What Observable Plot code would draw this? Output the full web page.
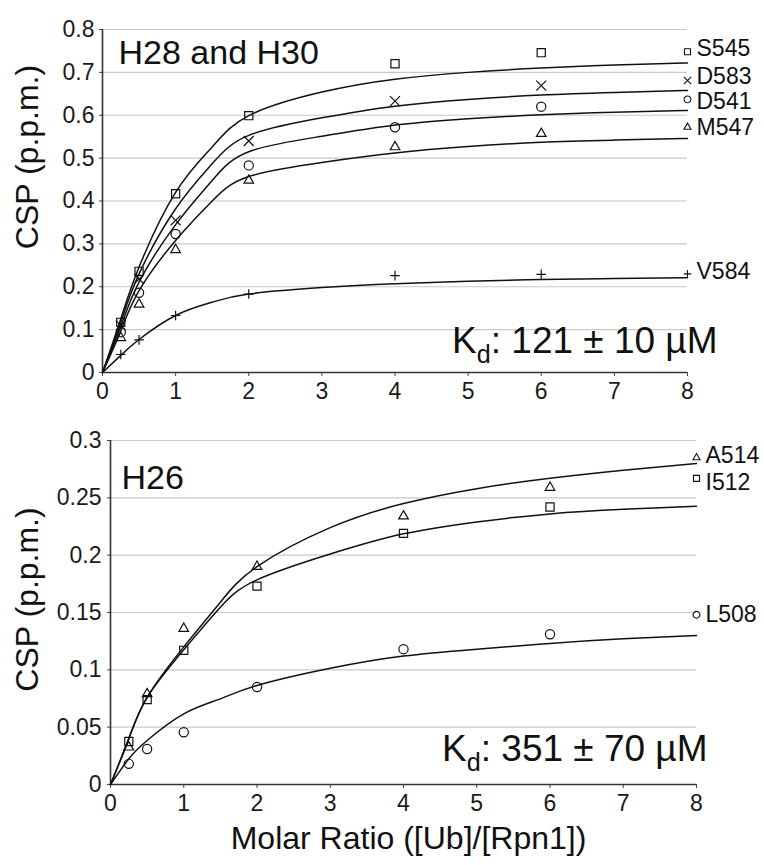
<!DOCTYPE html>
<html><head><meta charset="utf-8">
<script src="https://cdn.jsdelivr.net/npm/d3@7"></script>
<script src="https://cdn.jsdelivr.net/npm/@observablehq/plot@0.6"></script>
<style>
body{margin:0;background:#fff;}
#chart{width:764px;height:865px;position:relative;background:#fff;font-family:"Liberation Sans",Arial,Helvetica,sans-serif;}
#chart svg{display:block;}
</style></head><body><div id="chart"></div>
<script>
// ---------- shared ----------
const ratios = [0.25, 0.5, 1, 2, 4, 6, 8];
const fitRatios = [0, 0.25, 0.5, 1, 1.5, 2, 3, 4, 5, 6, 7, 8];
const xTicks = [0, 1, 2, 3, 4, 5, 6, 7, 8];
const xLabel = "Molar Ratio ([Ub]/[Rpn1])";
const yLabel = "CSP (p.p.m.)";

// ---------- top panel (H28 and H30) ----------
const topTitle = "H28 and H30";
const topKd = "Kd: 121 ± 10 µM";
const topNames = ["S545", "D583", "D541", "M547", "V584"];
const topSymbols = ["square", "times", "circle", "triangle2", "plus"];
const S545 = [0.117, 0.236, 0.417, 0.599, 0.720, 0.746, 0.748];
const D583 = [0.110, 0.218, 0.355, 0.540, 0.633, 0.669, 0.681];
const D541 = [0.094, 0.186, 0.323, 0.483, 0.572, 0.620, 0.637];
const M547 = [0.081, 0.159, 0.286, 0.448, 0.526, 0.557, 0.572];
const V584 = [0.042, 0.076, 0.133, 0.183, 0.226, 0.229, 0.230];
const S545fit = [0, 0.125, 0.246, 0.420, 0.526, 0.599, 0.654, 0.684, 0.700, 0.710, 0.717, 0.722];
const D583fit = [0, 0.117, 0.230, 0.382, 0.487, 0.553, 0.594, 0.621, 0.637, 0.647, 0.653, 0.658];
const D541fit = [0, 0.107, 0.211, 0.345, 0.448, 0.515, 0.551, 0.577, 0.592, 0.601, 0.607, 0.611];
const M547fit = [0, 0.097, 0.191, 0.308, 0.400, 0.457, 0.490, 0.512, 0.527, 0.537, 0.542, 0.546];
const V584fit = [0, 0.040, 0.077, 0.133, 0.164, 0.183, 0.198, 0.207, 0.213, 0.217, 0.219, 0.221];
const topYTicks = [0, 0.1, 0.2, 0.3, 0.4, 0.5, 0.6, 0.7, 0.8];

// ---------- bottom panel (H26) ----------
const botTitle = "H26";
const botKd = "Kd: 351 ± 70 µM";
const botNames = ["A514", "I512", "L508"];
const botSymbols = ["triangle2", "square", "circle"];
const A514 = [0.0325, 0.079, 0.136, 0.190, 0.234, 0.259, 0.285];
const I512 = [0.0375, 0.074, 0.117, 0.173, 0.219, 0.242, 0.267];
const L508 = [0.018, 0.031, 0.0456, 0.085, 0.118, 0.131, 0.148];
const A514fit = [0, 0.040, 0.076, 0.120, 0.159, 0.190, 0.224, 0.245, 0.258, 0.267, 0.274, 0.280];
const I512fit = [0, 0.040, 0.076, 0.1175, 0.1546, 0.1785, 0.201, 0.2186, 0.229, 0.236, 0.240, 0.2427];
const L508fit = [0, 0.0224, 0.0384, 0.0616, 0.0747, 0.0863, 0.1013, 0.112, 0.118, 0.123, 0.127, 0.130];
const botYTicks = [0, 0.05, 0.1, 0.15, 0.2, 0.25, 0.3];

// layout-only nudges for the end labels (pixels)
const labelNudge = {S545: -3, D583: -4, D541: 2, M547: 0, V584: -2, A514: -2, I512: 4, L508: 0};

function buildPoints(names, series) {
  return names.flatMap((n, i) => ratios.map((r, j) => ({name: n, x: r, y: series[i][j]})));
}
function buildFits(names, fits) {
  return names.flatMap((n, i) => fitRatios.map((r, j) => ({name: n, x: r, y: fits[i][j]})));
}

const FONT = '"Liberation Sans", Arial, Helvetica, sans-serif';
const INK = "#111";

function panel(o) {
  const pts = buildPoints(o.names, o.series);
  const fits = buildFits(o.names, o.fits);
  const symOf = Object.fromEntries(o.names.map((n, i) => [n, o.symbols[i]]));
  const isPlus = d => symOf[d.name] === "plus";
  const mid = pts.filter(d => d.x < 8);
  const last = pts.filter(d => d.x === 8);
  const dotStyle = {x: "x", y: "y", symbol: "name", stroke: INK, fill: "none"};
  const marks = [
    Plot.gridY(o.yTicks, {stroke: "#c8c8c8", strokeOpacity: 1, strokeWidth: 1.1}),
    Plot.axisY(o.yTicks, {tickSize: 3, tickPadding: o.yPad, fontSize: 23, tickFormat: d => String(d), label: null, stroke: "#444", fill: "#1a1a1a"}),
    Plot.axisX(xTicks, {tickSize: 4, tickPadding: 6, fontSize: 23, tickFormat: d => String(d), label: null, stroke: "#444", fill: "#1a1a1a"}),
    Plot.ruleY([0], {stroke: "#333", strokeWidth: 1.6}),
    Plot.ruleX([0], {stroke: "#333", strokeWidth: 1.6}),
    Plot.line(fits, {x: "x", y: "y", z: "name", curve: "natural", stroke: INK, strokeWidth: 1.5}),
    Plot.dot(mid.filter(d => !isPlus(d)), {...dotStyle, r: 4.6, strokeWidth: 1.2}),
    Plot.dot(mid.filter(isPlus), {...dotStyle, r: 3.2, strokeWidth: 1.2}),
    Plot.dot(last.filter(d => !isPlus(d)), {...dotStyle, r: 3.4, strokeWidth: 1.1}),
    Plot.dot(last.filter(isPlus), {...dotStyle, r: 2.6, strokeWidth: 1.1}),
    ...last.map(d => Plot.text([d], {x: "x", y: "y", text: "name", dx: 9, dy: labelNudge[d.name] || 0, textAnchor: "start", fontSize: 23, fill: INK})),
    Plot.text([o.title], {frameAnchor: "top-left", dx: o.titleDx, dy: o.titleDy, lineAnchor: "bottom", textAnchor: "start", fontSize: 34, fill: INK}),
    Plot.text([o.kd], {frameAnchor: "bottom-right", dx: o.kdDx, dy: o.kdDy, lineAnchor: "bottom", textAnchor: "end", fontSize: 37, fill: INK}),
    Plot.text([yLabel], {frameAnchor: "left", dx: o.ylDx, dy: o.ylDy, rotate: -90, textAnchor: "middle", lineAnchor: "middle", fontSize: 32, fill: INK})
  ];
  if (o.xLabel) {
    marks.push(Plot.text([o.xLabel], {frameAnchor: "bottom", dx: 5, dy: 64, lineAnchor: "bottom", fontSize: 32, fill: INK}));
  }
  const svg = Plot.plot({
    width: 764,
    height: o.height,
    marginTop: o.mt, marginBottom: o.mb, marginLeft: o.ml, marginRight: o.mr,
    style: {fontFamily: FONT, background: "#fff", color: INK},
    x: {domain: [0, 8]},
    y: {domain: o.yDomain},
    symbol: {domain: o.names, range: o.symbols},
    marks
  });
  // subscript d in Kd
  d3.select(svg).selectAll("text").each(function () {
    const t = this.textContent;
    if (t.startsWith("Kd:")) {
      const el = d3.select(this);
      const rest = t.slice(2);
      el.text(null);
      el.append("tspan").text("K");
      el.append("tspan").attr("font-size", "0.68em").attr("dy", "0.4em").text("d");
      el.append("tspan").attr("dy", "-0.27em").text(rest);
    }
  });
  return svg;
}

const topSvg = panel({
  names: topNames, symbols: topSymbols,
  series: [S545, D583, D541, M547, V584],
  fits: [S545fit, D583fit, D541fit, M547fit, V584fit],
  yTicks: topYTicks, yDomain: [0, 0.8],
  height: 410, mt: 29, mb: 38, ml: 102, mr: 77, yPad: 5,
  title: topTitle, titleDx: 16, titleDy: 34,
  kd: topKd, kdDx: 30, kdDy: -20,
  ylDx: -75, ylDy: -44
});
const botSvg = panel({
  names: botNames, symbols: botSymbols,
  series: [A514, I512, L508],
  fits: [A514fit, I512fit, L508fit],
  yTicks: botYTicks, yDomain: [0, 0.3],
  height: 455, mt: 30, mb: 81, ml: 110, mr: 68, yPad: 6,
  title: botTitle, titleDx: 11, titleDy: 48,
  kd: botKd, kdDx: 11, kdDy: -24,
  ylDx: -83, ylDy: -13,
  xLabel: xLabel
});
const root = document.getElementById("chart");
root.appendChild(topSvg);
root.appendChild(botSvg);
</script>
</body></html>
